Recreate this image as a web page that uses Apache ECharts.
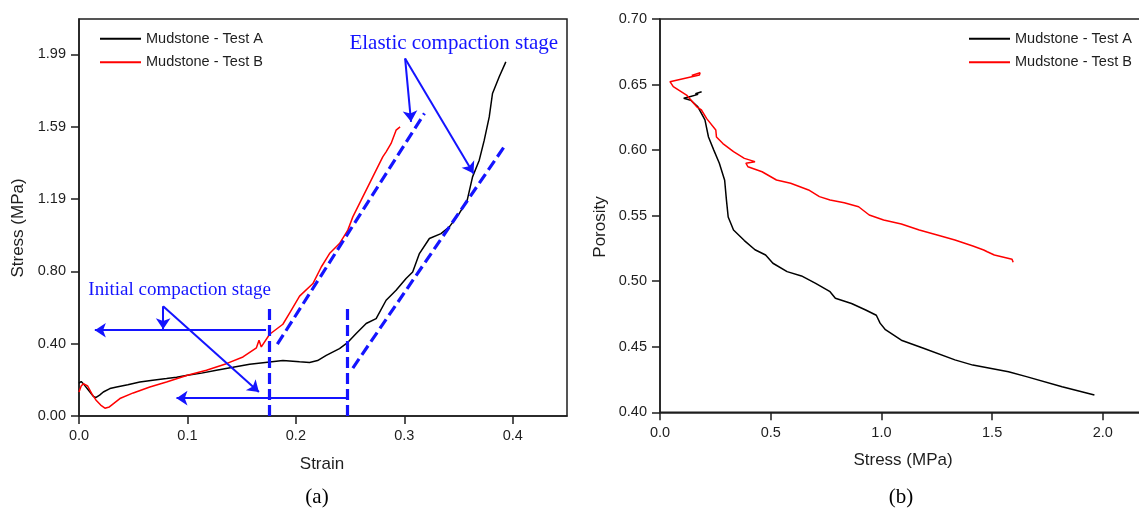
<!DOCTYPE html>
<html>
<head>
<meta charset="utf-8">
<script src="https://cdn.jsdelivr.net/npm/echarts@6/dist/echarts.min.js"></script>
<style>
  html, body { margin: 0; padding: 0; background: #fff; }
  #chart { width: 1139px; height: 514px; }
</style>
</head>
<body>
<div id="chart"></div>
<script>
// ---------- (a) stress-strain curves ----------
const strainA = [0, 0.002, 0.005, 0.009, 0.013, 0.0154, 0.019, 0.0224, 0.0285, 0.0347, 0.045, 0.0561, 0.068, 0.0807, 0.09, 0.1, 0.113, 0.1267, 0.142, 0.1574, 0.1758, 0.188, 0.2034, 0.2126, 0.22, 0.228, 0.2402, 0.2473, 0.2556, 0.2648, 0.274, 0.2832, 0.2924, 0.3016, 0.3077, 0.3139, 0.3231, 0.3338, 0.3415, 0.3507, 0.358, 0.3629, 0.3691, 0.3737, 0.3783, 0.3813, 0.3875, 0.3936];
const stressA = [0.18, 0.19, 0.17, 0.14, 0.11, 0.101, 0.115, 0.132, 0.151, 0.16, 0.172, 0.187, 0.197, 0.206, 0.213, 0.224, 0.236, 0.252, 0.268, 0.285, 0.297, 0.305, 0.298, 0.294, 0.305, 0.334, 0.371, 0.402, 0.454, 0.509, 0.536, 0.637, 0.692, 0.757, 0.793, 0.894, 0.977, 1.004, 1.041, 1.115, 1.188, 1.316, 1.408, 1.518, 1.646, 1.775, 1.867, 1.949];

const strainB = [0, 0.002, 0.004, 0.008, 0.012, 0.016, 0.02, 0.0239, 0.028, 0.0377, 0.05, 0.0653, 0.0807, 0.1, 0.1175, 0.1359, 0.1512, 0.1636, 0.166, 0.1681, 0.1758, 0.188, 0.195, 0.2034, 0.2157, 0.2234, 0.231, 0.2402, 0.2479, 0.2525, 0.2602, 0.2709, 0.2801, 0.2832, 0.2878, 0.2924, 0.2961];
const stressB = [0.132, 0.165, 0.178, 0.165, 0.12, 0.085, 0.06, 0.043, 0.05, 0.096, 0.127, 0.16, 0.187, 0.224, 0.252, 0.288, 0.325, 0.375, 0.417, 0.38, 0.45, 0.505, 0.575, 0.66, 0.729, 0.82, 0.894, 0.949, 1.023, 1.096, 1.188, 1.316, 1.426, 1.454, 1.5, 1.573, 1.591];

const strainTicks = [0, 0.1, 0.2, 0.3, 0.4];
const stressTicks = [0, 0.398, 0.796, 1.194, 1.592, 1.99];

// stage guides: vertical boundaries and elastic trend lines
const stageBounds = [0.1758, 0.2473];
const stageBoundTop = 0.604;
const elasticLines = [
  [[0.1829, 0.395], [0.3185, 1.665]],
  [[0.2525, 0.264], [0.3937, 1.496]]
];
// callout arrows [from, to]
const calloutArrows = [
  [[0.1725, 0.472], [0.0146, 0.472]],
  [[0.2464, 0.098], [0.0899, 0.098]],
  [[0.0776, 0.604], [0.0776, 0.478]],
  [[0.0776, 0.604], [0.1659, 0.132]],
  [[0.3007, 1.968], [0.3062, 1.619]],
  [[0.3007, 1.968], [0.3638, 1.335]]
];
const stageLabels = [
  { text: 'Initial compaction stage', at: [0.0928, 0.692], size: 19 },
  { text: 'Elastic compaction stage', at: [0.3456, 2.052], size: 21 }
];

// ---------- (b) porosity-stress curves ----------
const stressPA = [0.188, 0.16, 0.172, 0.13, 0.107, 0.139, 0.171, 0.203, 0.219, 0.243, 0.268, 0.292, 0.3, 0.308, 0.332, 0.381, 0.429, 0.477, 0.51, 0.574, 0.639, 0.703, 0.768, 0.792, 0.865, 0.929, 0.977, 0.994, 1.018, 1.09, 1.187, 1.332, 1.413, 1.574, 1.655, 1.816, 1.962];
const porosityA = [0.6445, 0.643, 0.6425, 0.6405, 0.6395, 0.638, 0.633, 0.623, 0.61, 0.6, 0.59, 0.577, 0.562, 0.549, 0.539, 0.531, 0.524, 0.52, 0.5137, 0.5073, 0.504, 0.4984, 0.492, 0.487, 0.483, 0.478, 0.474, 0.468, 0.463, 0.455, 0.449, 0.44, 0.436, 0.431, 0.4272, 0.4195, 0.4132];

const stressPB = [0.143, 0.181, 0.178, 0.045, 0.06, 0.12, 0.166, 0.187, 0.211, 0.252, 0.255, 0.284, 0.332, 0.381, 0.429, 0.388, 0.397, 0.461, 0.526, 0.59, 0.671, 0.72, 0.768, 0.832, 0.897, 0.945, 1.01, 1.09, 1.171, 1.252, 1.332, 1.413, 1.462, 1.478, 1.51, 1.59, 1.595];
const porosityB = [0.657, 0.659, 0.6573, 0.6522, 0.6484, 0.642, 0.633, 0.6306, 0.624, 0.6153, 0.61, 0.605, 0.5988, 0.5937, 0.5912, 0.59, 0.5873, 0.5835, 0.5772, 0.5747, 0.5696, 0.5645, 0.562, 0.5599, 0.5568, 0.5505, 0.5467, 0.5436, 0.539, 0.5352, 0.5314, 0.5268, 0.5238, 0.5225, 0.52, 0.5167, 0.5144];

const loadTicks = [0, 0.5, 1.0, 1.5, 2.0];

const seriesNames = ['Mudstone - Test A', 'Mudstone - Test B'];

// ---------- styling ----------
const SANS = '"Liberation Sans", Arial, sans-serif';
const SERIF = '"Liberation Serif", "Times New Roman", serif';
const INK = '#1e1e1e';
const BLUE = '#1414ff';

const zip = (xs, ys) => xs.map((x, i) => [x, ys[i]]);

function valueAxis(extra) {
  return Object.assign({
    type: 'value',
    axisLine: { show: true, onZero: false, lineStyle: { color: INK, width: 1.5 } },
    axisTick: { show: true, inside: false, length: 8, lineStyle: { color: INK, width: 1.5 } },
    splitLine: { show: false },
    axisLabel: { color: INK, fontSize: 14.5, fontFamily: SANS }
  }, extra);
}

function curve(name, data, color, axisIdx) {
  return {
    name, type: 'line', data,
    xAxisIndex: axisIdx, yAxisIndex: axisIdx,
    symbol: 'none', smooth: false,
    color,
    lineStyle: { color, width: 1.5 },
    emphasis: { disabled: true },
    z: 3
  };
}

function legendAt(left) {
  return {
    left, top: 31.3, orient: 'vertical', padding: 0,
    icon: 'rect', itemWidth: 41, itemHeight: 2, itemGap: 8.4,
    data: seriesNames,
    textStyle: { color: INK, fontSize: 14.5, fontFamily: SANS, lineHeight: 14 }
  };
}

const pair = (a, b) => [{ coord: a }, { coord: b }];

const option = {
  animation: false,
  backgroundColor: '#fff',
  grid: [
    { left: 79, top: 19, width: 488, height: 397, outerBoundsMode: 'none', containLabel: false,
      show: true, borderColor: INK, borderWidth: 1.5, backgroundColor: 'transparent' },
    // frame runs past the right edge of the canvas
    { left: 660, top: 19, width: 486, height: 393.3, outerBoundsMode: 'none', containLabel: false,
      show: true, borderColor: INK, borderWidth: 1.5, backgroundColor: 'transparent' }
  ],
  legend: [legendAt(100), legendAt(969)],
  xAxis: [
    valueAxis({
      gridIndex: 0, min: 0, max: 0.45,
      axisTick: { show: true, length: 8, customValues: strainTicks, lineStyle: { color: INK, width: 1.5 } },
      axisLabel: { customValues: strainTicks, margin: 12, color: INK, fontSize: 14.5, fontFamily: SANS, formatter: v => v.toFixed(1) }
    }),
    valueAxis({
      gridIndex: 1, min: 0, max: 2.195,
      axisTick: { show: true, length: 8, customValues: loadTicks, lineStyle: { color: INK, width: 1.5 } },
      axisLabel: { customValues: loadTicks, margin: 13, color: INK, fontSize: 14.5, fontFamily: SANS, formatter: v => v.toFixed(1) }
    })
  ],
  yAxis: [
    valueAxis({
      gridIndex: 0, min: 0, max: 2.185,
      axisTick: { show: true, length: 8, customValues: stressTicks, lineStyle: { color: INK, width: 1.5 } },
      axisLabel: { customValues: stressTicks, margin: 13, color: INK, fontSize: 14.5, fontFamily: SANS, formatter: v => v.toFixed(2) }
    }),
    valueAxis({
      gridIndex: 1, min: 0.4, max: 0.7, interval: 0.05,
      axisLabel: { margin: 13, color: INK, fontSize: 14.5, fontFamily: SANS, formatter: v => v.toFixed(2) }
    })
  ],
  series: [
    curve(seriesNames[0], zip(strainA, stressA), '#000000', 0),
    curve(seriesNames[1], zip(strainB, stressB), '#ff0000', 0),
    curve(seriesNames[0], zip(stressPA, porosityA), '#000000', 1),
    curve(seriesNames[1], zip(stressPB, porosityB), '#ff0000', 1),
    {
      // dashed stage guides
      type: 'line', data: [], xAxisIndex: 0, yAxisIndex: 0, silent: true, z: 4,
      markLine: {
        silent: true, symbol: ['none', 'none'], label: { show: false },
        emphasis: { disabled: true },
        lineStyle: { color: BLUE, width: 3.2, type: [11, 5] },
        data: stageBounds.map(s => pair([s, 0], [s, stageBoundTop]))
          .concat(elasticLines.map(l => pair(l[0], l[1])))
      }
    },
    {
      // callout arrows and stage names
      type: 'line', data: [], xAxisIndex: 0, yAxisIndex: 0, silent: true, z: 4,
      markLine: {
        silent: true, symbol: ['none', 'arrow'], symbolSize: 11, label: { show: false },
        emphasis: { disabled: true },
        lineStyle: { color: BLUE, width: 2, type: 'solid' },
        data: calloutArrows.map(a => pair(a[0], a[1]))
      },
      markPoint: {
        silent: true, symbol: 'circle', symbolSize: 0,
        label: { show: true, position: 'inside', color: BLUE, fontFamily: SERIF },
        data: stageLabels.map(l => ({
          coord: l.at, value: l.text,
          label: { formatter: l.text, fontSize: l.size, color: BLUE, fontFamily: SERIF }
        }))
      }
    }
  ],
  graphic: [
    { type: 'text', x: 18, y: 228, rotation: Math.PI / 2,
      style: { text: 'Stress (MPa)', font: '17px ' + SANS, fill: INK, align: 'center', verticalAlign: 'middle' } },
    { type: 'text', x: 322, y: 464,
      style: { text: 'Strain', font: '17px ' + SANS, fill: INK, align: 'center', verticalAlign: 'middle' } },
    { type: 'text', x: 317, y: 497,
      style: { text: '(a)', font: '21px ' + SERIF, fill: '#000', align: 'center', verticalAlign: 'middle' } },
    { type: 'text', x: 600, y: 227, rotation: Math.PI / 2,
      style: { text: 'Porosity', font: '17px ' + SANS, fill: INK, align: 'center', verticalAlign: 'middle' } },
    { type: 'text', x: 903, y: 460,
      style: { text: 'Stress (MPa)', font: '17px ' + SANS, fill: INK, align: 'center', verticalAlign: 'middle' } },
    { type: 'text', x: 901, y: 497,
      style: { text: '(b)', font: '21px ' + SERIF, fill: '#000', align: 'center', verticalAlign: 'middle' } }
  ]
};

const chart = echarts.init(document.getElementById('chart'), null, { renderer: 'canvas' });
chart.setOption(option);
</script>
</body>
</html>
